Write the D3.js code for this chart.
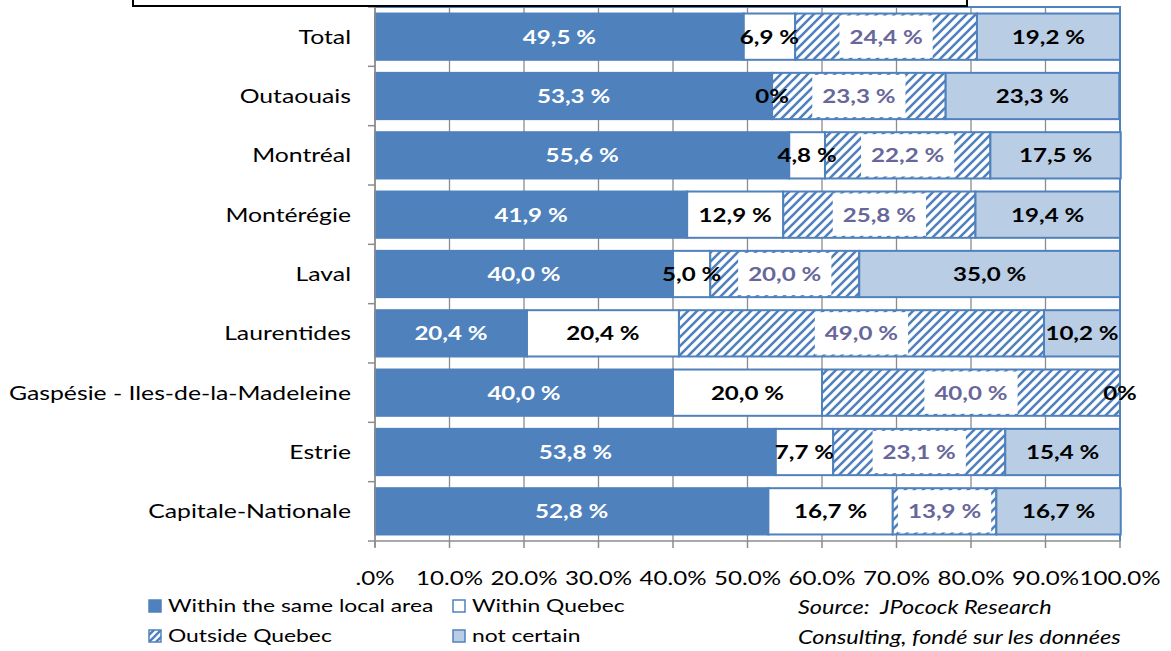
<!DOCTYPE html>
<meta charset="utf-8">
<head>
  <script src="https://d3js.org/d3.v7.min.js"></script>
  <style>
    body { margin: 0; background: white; }
    text { font-family: Lato, "Open Sans", sans-serif; white-space: pre; }
  </style>
</head>
<body>
  <div id="chart"></div>
  <script>
    // regions, top to bottom
    var regions = ["Total", "Outaouais", "Montréal", "Montérégie", "Laval", "Laurentides",
      "Gaspésie - Iles-de-la-Madeleine", "Estrie", "Capitale-Nationale"];
    var seriesNames = ["Within the same local area", "Within Quebec", "Outside Quebec", "not certain"];
    var localArea   = [49.5, 53.3, 55.6, 41.9, 40.0, 20.4, 40.0, 53.8, 52.8];
    var withinQc    = [6.9, 0, 4.8, 12.9, 5.0, 20.4, 20.0, 7.7, 16.7];
    var outsideQc   = [24.4, 23.3, 22.2, 25.8, 20.0, 49.0, 40.0, 23.1, 13.9];
    var notCertain  = [19.2, 23.3, 17.5, 19.4, 35.0, 10.2, 0, 15.4, 16.7];
    var tickValues  = [0, 10, 20, 30, 40, 50, 60, 70, 80, 90, 100];
    var tickLabels  = [".0%", "10.0%", "20.0%", "30.0%", "40.0%", "50.0%", "60.0%", "70.0%", "80.0%", "90.0%", "100.0%"];

    var W = 1171, H = 651;
    var SX = 1.27; // the original text is drawn wide
    var svg = d3.select("#chart").append("svg")
      .attr("width", W).attr("height", H);

    function at(x, y) {
      return "translate(" + x + "," + y + ") scale(" + SX + ",1)";
    }

    var defs = svg.append("defs");
    defs.append("pattern")
      .attr("id", "hatch")
      .attr("patternUnits", "userSpaceOnUse")
      .attr("width", 9).attr("height", 9)
      .call(function (p) {
        p.append("rect").attr("width", 9).attr("height", 9).attr("fill", "white");
        p.append("path")
          .attr("d", "M-2,2 l4,-4 M0,9 l9,-9 M7,11 l4,-4")
          .attr("stroke", "#4f81bd").attr("stroke-width", 2.6);
      });
    defs.append("pattern")
      .attr("id", "hatchSmall")
      .attr("patternUnits", "userSpaceOnUse")
      .attr("width", 7).attr("height", 7)
      .call(function (p) {
        p.append("rect").attr("width", 7).attr("height", 7).attr("fill", "white");
        p.append("path")
          .attr("d", "M-2,2 l4,-4 M0,7 l7,-7 M5,9 l4,-4")
          .attr("stroke", "#4f81bd").attr("stroke-width", 2.4);
      });

    var x = d3.scaleLinear().domain([0, 100]).range([375, 1120]);
    var y = d3.scaleBand().domain(regions).range([7, 541])
      .paddingInner(0.22).paddingOuter(0.11);

    var fills = ["#4f81bd", "white", "url(#hatch)", "#b9cde5"];
    var labelColors = ["white", "black", "#67679b", "black"];
    var series = [localArea, withinQc, outsideQc, notCertain];

    // gridlines
    svg.append("g")
      .selectAll("line")
      .data(tickValues)
      .enter().append("line")
      .attr("x1", d => x(d)).attr("x2", d => x(d))
      .attr("y1", 7).attr("y2", 541)
      .attr("stroke", "#8c8c8c").attr("stroke-width", 1.3);

    // plot area border (top/right)
    svg.append("path")
      .attr("d", "M" + x(0) + ",7 H" + x(100) + " V541")
      .attr("fill", "none").attr("stroke", "#4f81bd").attr("stroke-width", 2);

    // stacked segments
    var segs = [];
    regions.forEach(function (r, i) {
      var acc = 0;
      series.forEach(function (s, k) {
        segs.push({ region: r, k: k, v: s[i], x0: acc, x1: acc + s[i] });
        acc += s[i];
      });
    });

    svg.append("g")
      .selectAll("rect")
      .data(segs.filter(d => d.v > 0))
      .enter().append("rect")
      .attr("x", d => x(d.x0))
      .attr("y", d => y(d.region))
      .attr("width", d => x(d.x1) - x(d.x0))
      .attr("height", y.bandwidth())
      .attr("fill", d => fills[d.k])
      .attr("stroke", "#4f81bd")
      .attr("stroke-width", 2);

    function fmt(v) {
      return v === 0 ? "0%" : v.toFixed(1).replace(".", ",") + " %";
    }

    var labels = svg.append("g")
      .selectAll("g")
      .data(segs)
      .enter().append("g")
      .attr("transform", d => "translate(" + x((d.x0 + d.x1) / 2) + "," + (y(d.region) + y.bandwidth() / 2) + ")");

    labels.append("text")
      .attr("transform", "scale(" + SX + ",1)")
      .attr("text-anchor", "middle")
      .attr("dy", "0.36em")
      .attr("font-size", 19)
      .attr("font-weight", "bold")
      .attr("fill", d => labelColors[d.k])
      .text(d => fmt(d.v));

    // white label boxes for hatched segments
    labels.filter(d => d.k === 2).each(function (d) {
      var g = d3.select(this);
      var bb = g.select("text").node().getBBox();
      var w = bb.width * SX;
      g.insert("rect", "text")
        .attr("x", -w / 2 - 10).attr("width", w + 20)
        .attr("y", -y.bandwidth() / 2 + 2).attr("height", y.bandwidth() - 4)
        .attr("fill", "white");
    });

    // left axis
    var axisColor = "#8c8c8c";
    svg.append("line")
      .attr("x1", 375).attr("x2", 375).attr("y1", 7).attr("y2", 547)
      .attr("stroke", axisColor).attr("stroke-width", 1.5);
    svg.append("g")
      .selectAll("line")
      .data(d3.range(regions.length + 1))
      .enter().append("line")
      .attr("x1", 368).attr("x2", 375)
      .attr("y1", i => 7 + i * y.step()).attr("y2", i => 7 + i * y.step())
      .attr("stroke", axisColor).attr("stroke-width", 1.5);
    svg.append("g")
      .selectAll("text")
      .data(regions)
      .enter().append("text")
      .attr("transform", d => at(351, y(d) + y.bandwidth() / 2))
      .attr("dy", "0.36em")
      .attr("text-anchor", "end")
      .attr("font-size", 19.5)
      .attr("fill", "black")
      .text(d => d);

    // bottom axis
    svg.append("line")
      .attr("x1", 375).attr("x2", 1120).attr("y1", 541).attr("y2", 541)
      .attr("stroke", axisColor).attr("stroke-width", 1.5);
    svg.append("g")
      .selectAll("line")
      .data(tickValues)
      .enter().append("line")
      .attr("x1", d => x(d)).attr("x2", d => x(d))
      .attr("y1", 541).attr("y2", 548)
      .attr("stroke", axisColor).attr("stroke-width", 1.5);
    svg.append("g")
      .selectAll("text")
      .data(tickValues)
      .enter().append("text")
      .attr("transform", d => at(x(d), 585))
      .attr("text-anchor", "middle")
      .attr("font-size", 19)
      .attr("fill", "black")
      .text((d, i) => tickLabels[i]);

    // title box (mostly cut off above)
    svg.append("rect")
      .attr("x", 133).attr("y", -40).attr("width", 834).attr("height", 46)
      .attr("fill", "white").attr("stroke", "black").attr("stroke-width", 2);

    // legend
    var legendPos = [[148, 606], [452, 606], [148, 636], [452, 636]];
    var legendFills = ["#4f81bd", "white", "url(#hatchSmall)", "#b9cde5"];
    var legend = svg.append("g")
      .selectAll("g")
      .data(seriesNames)
      .enter().append("g")
      .attr("transform", (d, i) => "translate(" + legendPos[i][0] + "," + legendPos[i][1] + ")");
    legend.append("rect")
      .attr("x", 1).attr("y", -6).attr("width", 12).attr("height", 12)
      .attr("fill", (d, i) => legendFills[i])
      .attr("stroke", "#4f81bd").attr("stroke-width", 1.5);
    legend.append("text")
      .attr("transform", at(20, 0))
      .attr("dy", "0.36em")
      .attr("font-size", 18)
      .attr("fill", "black")
      .text(d => d);

    // source note
    var source = svg.append("g").attr("font-style", "italic");
    source.append("text").attr("transform", at(798, 614))
      .attr("font-size", 18.5).text("Source:  JPocock Research");
    source.append("text").attr("transform", at(798, 644))
      .attr("font-size", 18.5).text("Consulting, fondé sur les données");
  </script>
</body>
</html>
